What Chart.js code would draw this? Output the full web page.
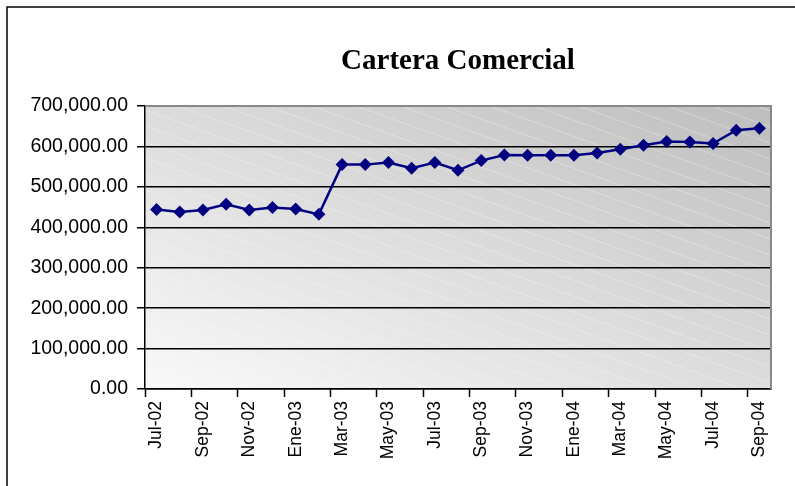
<!DOCTYPE html>
<html>
<head>
<meta charset="utf-8">
<script src="https://cdn.jsdelivr.net/npm/chart.js@4"></script>
<style>
  body { margin: 0; background: #fff; }
  #wrap { position: relative; width: 795px; height: 486px; }
</style>
</head>
<body>
<div id="wrap"><canvas id="chart"></canvas></div>
<script>
// months shown on the category axis (Spanish abbreviations)
const meses = ["Jul-02", "Ago-02", "Sep-02", "Oct-02", "Nov-02", "Dic-02", "Ene-03", "Feb-03",
    "Mar-03", "Abr-03", "May-03", "Jun-03", "Jul-03", "Ago-03", "Sep-03", "Oct-03", "Nov-03",
    "Dic-03", "Ene-04", "Feb-04", "Mar-04", "Abr-04", "May-04", "Jun-04", "Jul-04", "Ago-04", "Sep-04"];

// cartera comercial
const cartera = [444000, 438000, 443000, 457000, 443000, 449000, 445000, 432000,
    555000, 555000, 560000, 546000, 560000, 541000, 565000, 579000, 578000,
    578000, 578000, 584000, 593000, 603000, 612000, 611000, 607000, 640000, 645000];

const yTicks = [0, 100000, 200000, 300000, 400000, 500000, 600000, 700000];

// gradient plot area with faint diagonal stripes
const plotBackground = {
    id: "plotBackground",
    beforeDraw(chart) {
        const { ctx, chartArea: a } = chart;
        const w = a.right - a.left, h = a.bottom - a.top;
        const cx = a.left + w / 2, cy = a.top + h / 2;
        // light in the lower left, dark in the upper right, equal at the other two corners
        const k = (w * h) / (w * w + h * h);
        ctx.save();
        const g = ctx.createLinearGradient(cx - h * k, cy + w * k, cx + h * k, cy - w * k);
        g.addColorStop(0, "#f9f9f9");
        g.addColorStop(0.5, "#dcdcdc");
        g.addColorStop(1, "#bdbdbd");
        ctx.fillStyle = g;
        ctx.fillRect(a.left, a.top, w, h);
        ctx.beginPath();
        ctx.rect(a.left, a.top, w, h);
        ctx.clip();
        ctx.strokeStyle = "rgba(255,255,255,0.3)";
        ctx.lineWidth = 1;
        for (let y = a.top - 300; y < a.bottom + 20; y += 16) {
            ctx.beginPath();
            ctx.moveTo(a.left, y);
            ctx.lineTo(a.right, y + w * 0.36);
            ctx.stroke();
        }
        ctx.restore();
    },
    afterDraw(chart) {
        const { ctx, chartArea: a } = chart;
        ctx.save();
        // grey frame on top and right of plot
        ctx.strokeStyle = "#888";
        ctx.lineWidth = 2;
        ctx.beginPath();
        ctx.moveTo(a.left, a.top);
        ctx.lineTo(a.right, a.top);
        ctx.lineTo(a.right, a.bottom);
        ctx.stroke();
        // outer frame of the picture
        ctx.strokeStyle = "#000";
        ctx.lineWidth = 1.5;
        ctx.beginPath();
        ctx.moveTo(7, 486);
        ctx.lineTo(7, 7);
        ctx.lineTo(795, 7);
        ctx.stroke();
        ctx.restore();
    }
};

new Chart(document.getElementById("chart"), {
    type: "line",
    data: {
        labels: meses,
        datasets: [{
            data: cartera,
            borderColor: "#000080",
            backgroundColor: "#000080",
            borderWidth: 2.5,
            tension: 0,
            pointStyle: "rectRot",
            pointRadius: 6.5,
            pointBorderWidth: 0,
            pointBackgroundColor: "#000080",
            fill: false
        }]
    },
    options: {
        responsive: true,
        maintainAspectRatio: false,
        animation: false,
        layout: { padding: { top: 0, left: 0, right: 24, bottom: 0 } },
        plugins: {
            legend: { display: false },
            tooltip: { enabled: false },
            title: {
                display: true,
                fullSize: false,
                text: "Cartera Comercial",
                color: "#000",
                font: { family: "Liberation Serif", size: 29, weight: "bold", lineHeight: 1.2 },
                padding: { top: 44, bottom: 27.2 }
            }
        },
        scales: {
            x: {
                offset: true,
                afterFit: (scale) => { scale.height = 97; },
                border: { color: "#000", width: 1.5 },
                grid: {
                    offset: true,
                    drawOnChartArea: false,
                    tickLength: 8,
                    tickWidth: 1.5,
                    tickColor: (ctx) => (typeof ctx.index === "number" && ctx.index % 2 === 0) ? "#000" : "rgba(0,0,0,0)"
                },
                ticks: {
                    autoSkip: false,
                    minRotation: 90,
                    maxRotation: 90,
                    padding: 4,
                    color: "#000",
                    font: { family: "Liberation Sans", size: 17.5 },
                    callback: (v, i) => i % 2 === 0 ? meses[i] : ""
                }
            },
            y: {
                min: 0,
                max: 700000,
                afterFit: (scale) => { scale.width = 145; },
                afterBuildTicks: (scale) => { scale.ticks = yTicks.map(v => ({ value: v })); },
                border: { color: "#000", width: 1.5 },
                grid: {
                    color: (ctx) => ctx.tick && ctx.tick.value === 700000 ? "#888" : "#000",
                    lineWidth: 1.5,
                    tickLength: 8,
                    tickColor: "#000"
                },
                ticks: {
                    padding: 9,
                    color: "#000",
                    font: { family: "Liberation Sans", size: 19.5 },
                    callback: (v) => v.toLocaleString("en-US", { minimumFractionDigits: 2, maximumFractionDigits: 2 })
                }
            }
        }
    },
    plugins: [plotBackground]
});
</script>
</body>
</html>
